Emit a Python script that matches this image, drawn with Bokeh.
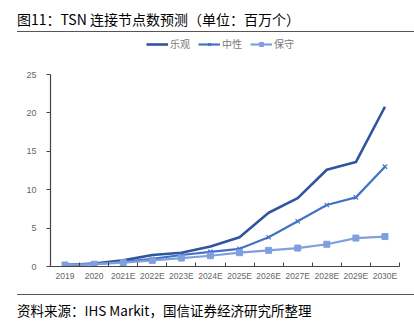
from bokeh.plotting import figure
from bokeh.models import (Range1d, FixedTicker, Legend, LegendItem, Div)
from bokeh.layouts import column
from bokeh.embed import file_html
from bokeh.resources import INLINE

categories = ["2019", "2020", "2021E", "2022E", "2023E", "2024E", "2025E",
              "2026E", "2027E", "2028E", "2029E", "2030E"]
optimistic = [0.2, 0.4, 0.8, 1.5, 1.8, 2.6, 3.8, 7.0, 8.9, 12.6, 13.6, 20.8]
neutral = [0.2, 0.3, 0.6, 1.0, 1.5, 1.9, 2.3, 3.8, 5.9, 8.0, 9.0, 13.0]
conservative = [0.2, 0.3, 0.5, 0.8, 1.1, 1.4, 1.8, 2.1, 2.4, 2.9, 3.7, 3.9]
series_names = ["乐观", "中性", "保守"]
y_ticks = [0, 5, 10, 15, 20, 25]
y_max = 25

title_text = "图11：TSN 连接节点数预测（单位：百万个）"
source_text = "资料来源：IHS Markit，国信证券经济研究所整理"

xs = list(range(1, len(categories) + 1))

CJK = "'Noto Sans CJK SC', sans-serif"
AX = "Liberation Sans, Arial, sans-serif"

header = Div(
    text=f'<div style="margin-left:17px;width:397px;height:32px;border-bottom:1px solid #555;'
         f'box-sizing:border-box;padding-top:10px;font-family:{CJK};font-size:14px;'
         f'line-height:18px;color:#000;white-space:nowrap;">{title_text}</div>',
    width=414, height=36, margin=(0, 0, 0, 0))

# frame spans 230 px; the value axis (0..25) occupies the lower 192 px,
# the legend sits in the space above it
frame_h, axis_h = 230, 192
p = figure(width=414, height=258, output_backend="svg", toolbar_location=None,
           x_range=Range1d(0.5, 12.5), y_range=Range1d(0, y_max * frame_h / axis_h),
           min_border_left=50, min_border_right=15, min_border_top=0,
           min_border_bottom=28, outline_line_color=None, margin=(0, 0, 0, 0))
p.xgrid.visible = False
p.ygrid.visible = False

c1, c2, c3 = "#2F559F", "#4472C4", "#809FDF"
r1 = p.line(xs, optimistic, line_color=c1, line_width=2.6)
r2 = p.line(xs, neutral, line_color=c2, line_width=2.2)
r2m = p.scatter(xs, neutral, marker="x", size=6, line_color=c2, line_width=1.2)
r3 = p.line(xs, conservative, line_color=c3, line_width=2.2)
r3m = p.scatter(xs, conservative, marker="square", size=6, fill_color=c3, line_color=c3)

# x axis: labels at category centres, ticks at boundaries
xt = FixedTicker(ticks=xs, minor_ticks=[x + 0.5 for x in range(0, len(categories) + 1)])
p.xaxis.ticker = xt
p.xaxis.major_label_overrides = {x: c for x, c in zip(xs, categories)}
p.xaxis.major_tick_line_color = None
p.xaxis.major_tick_in = 0
p.xaxis.major_tick_out = 0
p.xaxis.minor_tick_in = 4
p.xaxis.minor_tick_out = 0
p.xaxis.minor_tick_line_color = "#444444"
p.xaxis.axis_line_color = "#444444"
p.xaxis.axis_line_width = 1.2
p.xaxis.major_label_standoff = 4
p.xaxis.major_label_text_font = AX
p.xaxis.major_label_text_font_size = "8.5px"
p.xaxis.major_label_text_color = "#666666"

p.yaxis.ticker = FixedTicker(ticks=y_ticks)
p.yaxis.bounds = (0, y_max)
p.yaxis.minor_tick_line_color = None
p.yaxis.major_tick_in = 0
p.yaxis.major_tick_out = 4
p.yaxis.major_tick_line_color = "#444444"
p.yaxis.axis_line_color = "#444444"
p.yaxis.axis_line_width = 1.2
p.yaxis.major_label_standoff = 10
p.yaxis.major_label_text_font = AX
p.yaxis.major_label_text_font_size = "9px"
p.yaxis.major_label_text_color = "#666666"

legend = Legend(items=[LegendItem(label=series_names[0], renderers=[r1]),
                       LegendItem(label=series_names[1], renderers=[r2, r2m]),
                       LegendItem(label=series_names[2], renderers=[r3, r3m])],
                location=(96, frame_h - 15), orientation="horizontal",
                label_text_font=CJK, label_text_font_size="10px",
                label_text_color="#777777", glyph_width=22, glyph_height=10,
                label_standoff=2, spacing=8, padding=0, margin=0,
                label_height=12,
                border_line_color=None, background_fill_alpha=0)
p.add_layout(legend, "center")

footer = Div(
    text=f'<div style="margin-left:17px;width:397px;border-top:1px solid #555;'
         f'box-sizing:border-box;padding-top:6px;font-family:{CJK};font-size:13.5px;'
         f'line-height:18px;color:#000;white-space:nowrap;">{source_text}</div>',
    width=414, height=36, margin=(0, 0, 0, 0))

layout = column(header, p, footer, spacing=0, margin=(0, 0, 0, 0))
open("out.html", "w").write(file_html(layout, INLINE))
